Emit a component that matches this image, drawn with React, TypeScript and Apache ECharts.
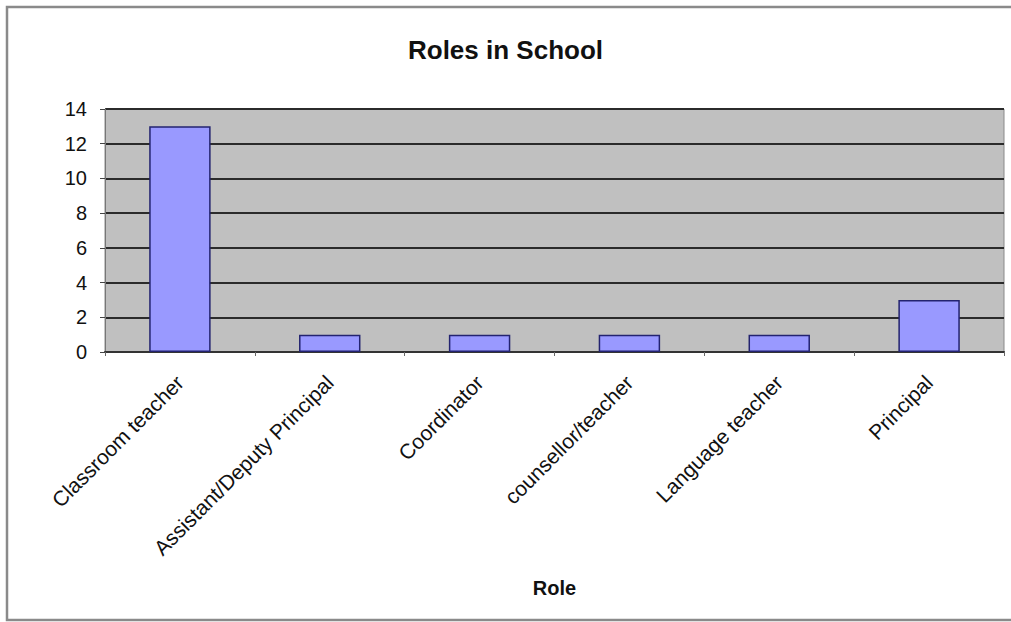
import React, { useEffect, useRef } from "react";
import * as echarts from "echarts";

const roles = [
  "Classroom teacher",
  "Assistant/Deputy Principal",
  "Coordinator",
  "counsellor/teacher",
  "Language teacher",
  "Principal",
];
const counts = [13, 1, 1, 1, 1, 3];
const yMin = 0;
const yMax = 14;
const yStep = 2;

export default function App() {
  const ref = useRef<HTMLDivElement>(null);

  useEffect(() => {
    if (!ref.current) return;
    const chart = echarts.init(ref.current, null, { renderer: "svg" });
    const font = "'Liberation Sans', Arial, sans-serif";
    chart.setOption({
      animation: false,
      backgroundColor: "#ffffff",
      textStyle: { fontFamily: font },
      title: {
        text: "Roles in School",
        left: "center",
        top: 32,
        textStyle: { fontFamily: font, fontSize: 26, fontWeight: "bold", color: "#111" },
      },
      graphic: [
        {
          type: "rect",
          shape: { x: 7, y: 7, width: 1010, height: 613 },
          style: { fill: "none", stroke: "#8a8a8a", lineWidth: 2.5 },
          silent: true,
        },
      ],
      grid: {
        left: 105,
        right: 7,
        top: 109,
        bottom: 270,
        show: true,
        backgroundColor: "#c0c0c0",
        borderColor: "#8a8a8a",
        borderWidth: 1,
      },
      xAxis: {
        type: "category",
        data: roles,
        name: "Role",
        nameLocation: "middle",
        nameGap: 226,
        nameTextStyle: { fontFamily: font, fontSize: 20, fontWeight: "bold", color: "#111" },
        axisLine: { show: true, lineStyle: { color: "#333", width: 2 } },
        axisTick: { show: true, alignWithLabel: false, length: 4, lineStyle: { color: "#666" } },
        axisLabel: {
          rotate: 45,
          margin: 27,
          fontFamily: font,
          fontSize: 21,
          color: "#111",
          interval: 0,
        },
        splitLine: { show: false },
      },
      yAxis: {
        type: "value",
        min: yMin,
        max: yMax,
        interval: yStep,
        axisLine: { show: true, lineStyle: { color: "#777", width: 1 } },
        axisTick: { show: true, length: 5, lineStyle: { color: "#444" } },
        axisLabel: { fontFamily: font, fontSize: 20, color: "#111", margin: 18 },
        splitLine: { show: true, lineStyle: { color: "#2b2b2b", width: 2 } },
      },
      series: [
        {
          type: "bar",
          data: counts,
          barWidth: "41%",
          itemStyle: { color: "#9999ff", borderColor: "#232370", borderWidth: 1.5 },
        },
      ],
    });
    return () => chart.dispose();
  }, []);

  return (
    <div
      ref={ref}
      style={{ position: "fixed", left: 0, top: 0, width: 1011, height: 622 }}
    />
  );
}
